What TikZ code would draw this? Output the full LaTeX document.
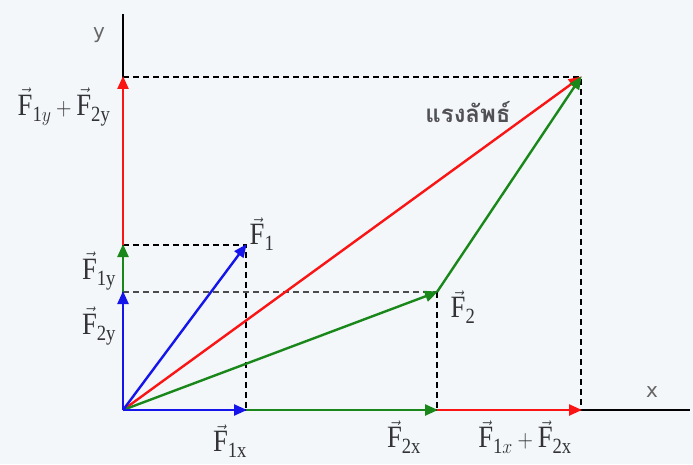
\documentclass[tikz,border=0pt]{standalone}
\usepackage{fontspec}
\setmainfont{Liberation Serif}
\newfontfamily\thaifont[Script=Thai]{Loma}
\newfontfamily\axfont{DejaVu Sans}
\usetikzlibrary{arrows.meta}
\definecolor{bgc}{RGB}{243,247,250}
\definecolor{vred}{RGB}{250,20,20}
\definecolor{vgreen}{RGB}{25,135,25}
\definecolor{vblue}{RGB}{20,20,235}
\definecolor{txt}{RGB}{50,50,55}
\tikzset{
  vec/.style={line width=2.4pt,-{Triangle[length=13pt,width=11pt]},shorten >=-1pt},
  axis/.style={line width=1.1pt,black},
  guide/.style={line width=1.1pt,black,dash pattern=on 6pt off 4pt},
  lbl/.style={text=txt,font=\fontsize{31}{34}\selectfont,inner sep=0pt,xscale=0.86},
  axlbl/.style={text=black!60,font=\axfont\fontsize{20}{22}\selectfont,inner sep=0pt},
}
\begin{document}
\begin{tikzpicture}[x=1pt,y=1pt]
\fill[bgc] (0,0) rectangle (693,464);
\useasboundingbox (0,0) rectangle (693,464);
% points
\coordinate (O) at (123,54);
\coordinate (F1) at (246,219);
\coordinate (F2) at (437,172);
\coordinate (R) at (581,387);
\coordinate (F1x) at (246,54);
\coordinate (F2x) at (437,54);
\coordinate (Rx) at (581,54);
\coordinate (F2y) at (123,172);
\coordinate (F1y) at (123,219);
\coordinate (Ry) at (123,387);
\coordinate (ytop) at (123,450);
\coordinate (xend) at (690,54);
% axes
\draw[axis] (O) -- (ytop);
\draw[axis] (O) -- (xend);
% guides
\draw[guide] (Ry) -- (R) -- (Rx);
\draw[guide] (F1y) -- (F1) -- (F1x);
\draw[guide,black!70] (F2y) -- (F2);
\draw[guide] (F2) -- (F2x);
% vectors
\draw[vec,vred] (O) -- (R);
\draw[vec,vgreen] (F2) -- (R);
\draw[vec,vgreen] (O) -- (F2);
\draw[vec,vblue] (O) -- (F1);
\draw[vec,vgreen] (F1x) -- (F2x);
\draw[vec,vred] (F2x) -- (Rx);
\draw[vec,vblue] (O) -- (F1x);
\draw[vec,vgreen] (F2y) -- (F1y);
\draw[vec,vred] (F1y) -- (Ry);
\draw[vec,vblue] (O) -- (F2y);
% labels
\node[lbl] (lF1) at (262,230) {$\vec{\mathrm{F}}_{\mathrm{1}}$};
\node[lbl] (lF2) at (463,157) {$\vec{\mathrm{F}}_{\mathrm{2}}$};
\node[lbl] (lF1y) at (99,193) {$\vec{\mathrm{F}}_{\mathrm{1y}}$};
\node[lbl] (lF2y) at (99,138) {$\vec{\mathrm{F}}_{\mathrm{2y}}$};
\node[lbl] (lsumy) at (64,357) {$\vec{\mathrm{F}}_{\mathrm{1}y}+\vec{\mathrm{F}}_{\mathrm{2y}}$};
\node[lbl] (lF1x) at (230,23) {$\vec{\mathrm{F}}_{\mathrm{1x}}$};
\node[lbl] (lF2x) at (404,27) {$\vec{\mathrm{F}}_{\mathrm{2x}}$};
\node[lbl] (lsumx) at (525,27) {$\vec{\mathrm{F}}_{\mathrm{1}x}+\vec{\mathrm{F}}_{\mathrm{2x}}$};
\node[text=txt!85,font=\thaifont\bfseries\fontsize{24}{28}\selectfont,inner sep=0pt] (lres) at (468,352) {แรงลัพธ์};
\node[axlbl] (lx) at (652,72) {x};
\node[axlbl] (ly) at (99,429) {y};
\end{tikzpicture}
\end{document}
